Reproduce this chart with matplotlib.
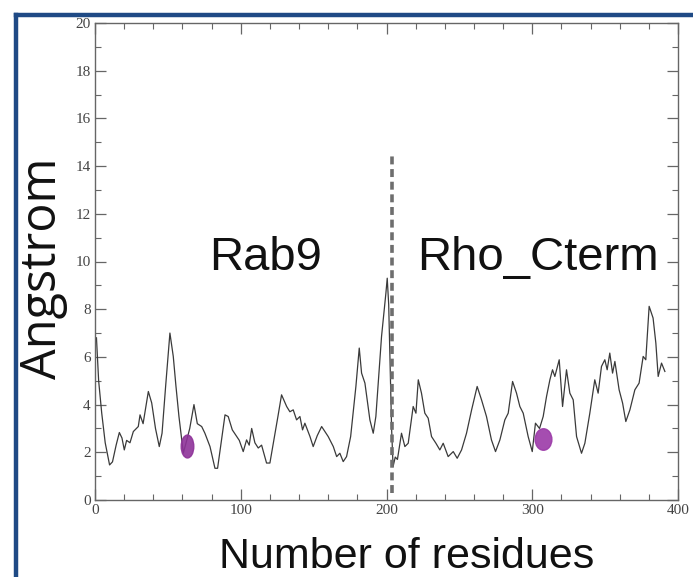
import numpy as np
import matplotlib
matplotlib.use("Agg")
import matplotlib.pyplot as plt
from matplotlib import font_manager
from matplotlib.markers import MarkerStyle
from matplotlib.transforms import Affine2D
from matplotlib.lines import Line2D

# residue index and deviation (Angstrom)
residues = [1, 2.5, 4.6, 7, 10, 12, 14.5, 16.7, 18.5, 20.1, 21.7, 24, 26.3, 29.7, 30.9, 33,
            36.6, 38.9, 41.5, 44.1, 46, 48.5, 51.4, 53.7, 55.5, 57.6, 60.6, 62.5, 65, 67.9,
            70.2, 73.2, 75.4, 78.9, 82.3, 84.1, 86.5, 89.2, 91.4, 94.2, 97.2, 99, 101.7, 104,
            105.8, 107.5, 109.7, 112, 114.3, 117.7, 120, 123, 125.5, 128, 131.5, 133.7, 136,
            138.3, 140.6, 142.4, 144, 147.5, 149.7, 152.5, 155.5, 158, 160, 163.5, 165.8, 168,
            170.3, 172.6, 175.4, 179, 181.3, 182.9, 185.2, 188.6, 190.9, 192.7, 196.6, 199.6,
            200.5, 201.5, 203.5, 204.5, 206, 207.5, 210.3, 212.6, 214.9, 218.3, 220.2, 221.8,
            224, 226.3, 228.6, 230.9, 233.9, 236.6, 238.9, 242.3, 245.8, 248.5, 251.5, 254.9,
            258.4, 262.2, 265.2, 268.6, 272, 274.8, 277.8, 281.2, 283.5, 286.5, 289.2, 291.5,
            293.8, 297.2, 300, 302.2, 305, 307.5, 309.8, 312.1, 313.9, 315.5, 318.5, 320.8,
            323.5, 325.8, 328.1, 330.4, 333.8, 336.1, 339.5, 342.9, 345.2, 347.5, 349.8, 351.4,
            353.2, 355.1, 356.7, 359.6, 362, 364.2, 367, 370.4, 373.3, 376.1, 377.9, 380.2,
            382.9, 384.8, 386.4, 388.7, 391]
angstrom = [6.8, 5.0, 3.65, 2.4, 1.47, 1.6, 2.3, 2.83, 2.6, 2.1, 2.5, 2.4, 2.87, 3.08, 3.57, 3.2,
            4.55, 4.07, 3.0, 2.24, 2.8, 4.8, 7.0, 6.02, 4.8, 3.5, 1.97, 2.4, 3.0, 4.0,
            3.2, 3.08, 2.8, 2.24, 1.33, 1.33, 2.4, 3.57, 3.5, 2.94, 2.66, 2.5, 2.03, 2.52,
            2.3, 3.0, 2.4, 2.18, 2.3, 1.55, 1.55, 2.6, 3.5, 4.41, 3.92, 3.7, 3.78,
            3.36, 3.5, 2.94, 3.22, 2.66, 2.24, 2.7, 3.08, 2.85, 2.66, 2.24, 1.82, 1.96,
            1.61, 1.82, 2.66, 4.76, 6.37, 5.32, 4.9, 3.36, 2.8, 3.5, 6.86, 8.68,
            9.3, 8.2, 3.0, 1.4, 1.8, 1.7, 2.8, 2.24, 2.38, 3.92, 3.64, 5.04,
            4.48, 3.64, 3.43, 2.66, 2.38, 2.1, 2.38, 1.82, 2.03, 1.75, 2.1, 2.8,
            3.78, 4.76, 4.2, 3.5, 2.52, 2.03, 2.52, 3.36, 3.64, 4.97, 4.48, 3.92,
            3.64, 2.66, 2.03, 3.22, 3.0, 3.5, 4.34, 5.04, 5.46, 5.18, 5.88, 3.92,
            5.46, 4.48, 4.2, 2.66, 1.96, 2.38, 3.64, 5.04, 4.48, 5.6, 5.88, 5.46,
            6.16, 5.32, 5.81, 4.62, 4.06, 3.29, 3.78, 4.62, 4.9, 6.02, 5.88, 8.12,
            7.63, 6.58, 5.18, 5.74, 5.39]

marked_res = [63, 307.5]
marked_val = [2.25, 2.55]
split_res = 203.5
domain_names = ["Rab9", "Rho_Cterm"]
domain_x = [117, 304]

available = {f.name for f in font_manager.fontManager.ttflist}
narrow = "Liberation Sans Narrow" if "Liberation Sans Narrow" in available else "Liberation Sans"
big_size = 41 if narrow == "Liberation Sans Narrow" else 34

fig = plt.figure(figsize=(6.93, 5.77), dpi=100)
ax = fig.add_axes([95 / 693, 1 - 500 / 577, 583 / 693, 477 / 577])

ax.plot(residues, angstrom, color="#3a3a3a", lw=0.9)
ax.plot([split_res, split_res], [0.3, 14.5], color="#6e6e6e", lw=2.6, ls=(0, (2.2, 1.3)))

# purple spots, a bit squashed like in the picture
ax.plot(marked_res[0], marked_val[0], ls="none", color="#8e3399", alpha=0.9, ms=16.5,
        marker=MarkerStyle("o", transform=Affine2D().scale(0.55, 1)))
ax.plot(marked_res[1], marked_val[1], ls="none", color="#9b3aa8", alpha=0.9, ms=15.5,
        marker=MarkerStyle("o", transform=Affine2D().scale(0.78, 1)))

for name, x in zip(domain_names, domain_x):
    ax.text(x, 9.66, name, ha="center", va="baseline", fontsize=big_size,
            family=narrow, color="#111111")

ax.set_xlim(0, 400)
ax.set_ylim(0, 20)
ax.set_xticks([0, 100, 200, 300, 400])
ax.set_xticks(np.arange(0, 401, 20), minor=True)
ax.set_yticks(np.arange(0, 21, 2))
ax.set_yticks(np.arange(0, 21, 1), minor=True)
ax.tick_params(which="both", direction="in", top=True, right=True, color="#666666",
               labelsize=11, labelcolor="#444444", pad=3)
ax.tick_params(which="major", length=8, width=0.9)
ax.tick_params(which="minor", length=4, width=0.8)
for lab in ax.get_xticklabels() + ax.get_yticklabels():
    lab.set_family("Liberation Serif")
for sp in ax.spines.values():
    sp.set_color("#666666")
    sp.set_linewidth(1.0)

fig.text(43 / 693, 1 - 268 / 577, "Angstrom", rotation=90, ha="center", va="center",
         fontsize=35, family="Open Sans", color="#111111")
fig.text(407 / 693, 1 - 568 / 577, "Number of residues", ha="center", va="baseline",
         fontsize=big_size - 3, family=narrow, color="#111111")

# blue frame (top and left edges only visible)
fig.add_artist(Line2D([15.5 / 693, 1], [1 - 14.5 / 577, 1 - 14.5 / 577],
                      transform=fig.transFigure, color="#1f4a85", lw=3.2))
fig.add_artist(Line2D([15.5 / 693, 15.5 / 693], [0, 1 - 14.5 / 577],
                      transform=fig.transFigure, color="#1f4a85", lw=3.2))

fig.savefig("out.png", dpi=100)
